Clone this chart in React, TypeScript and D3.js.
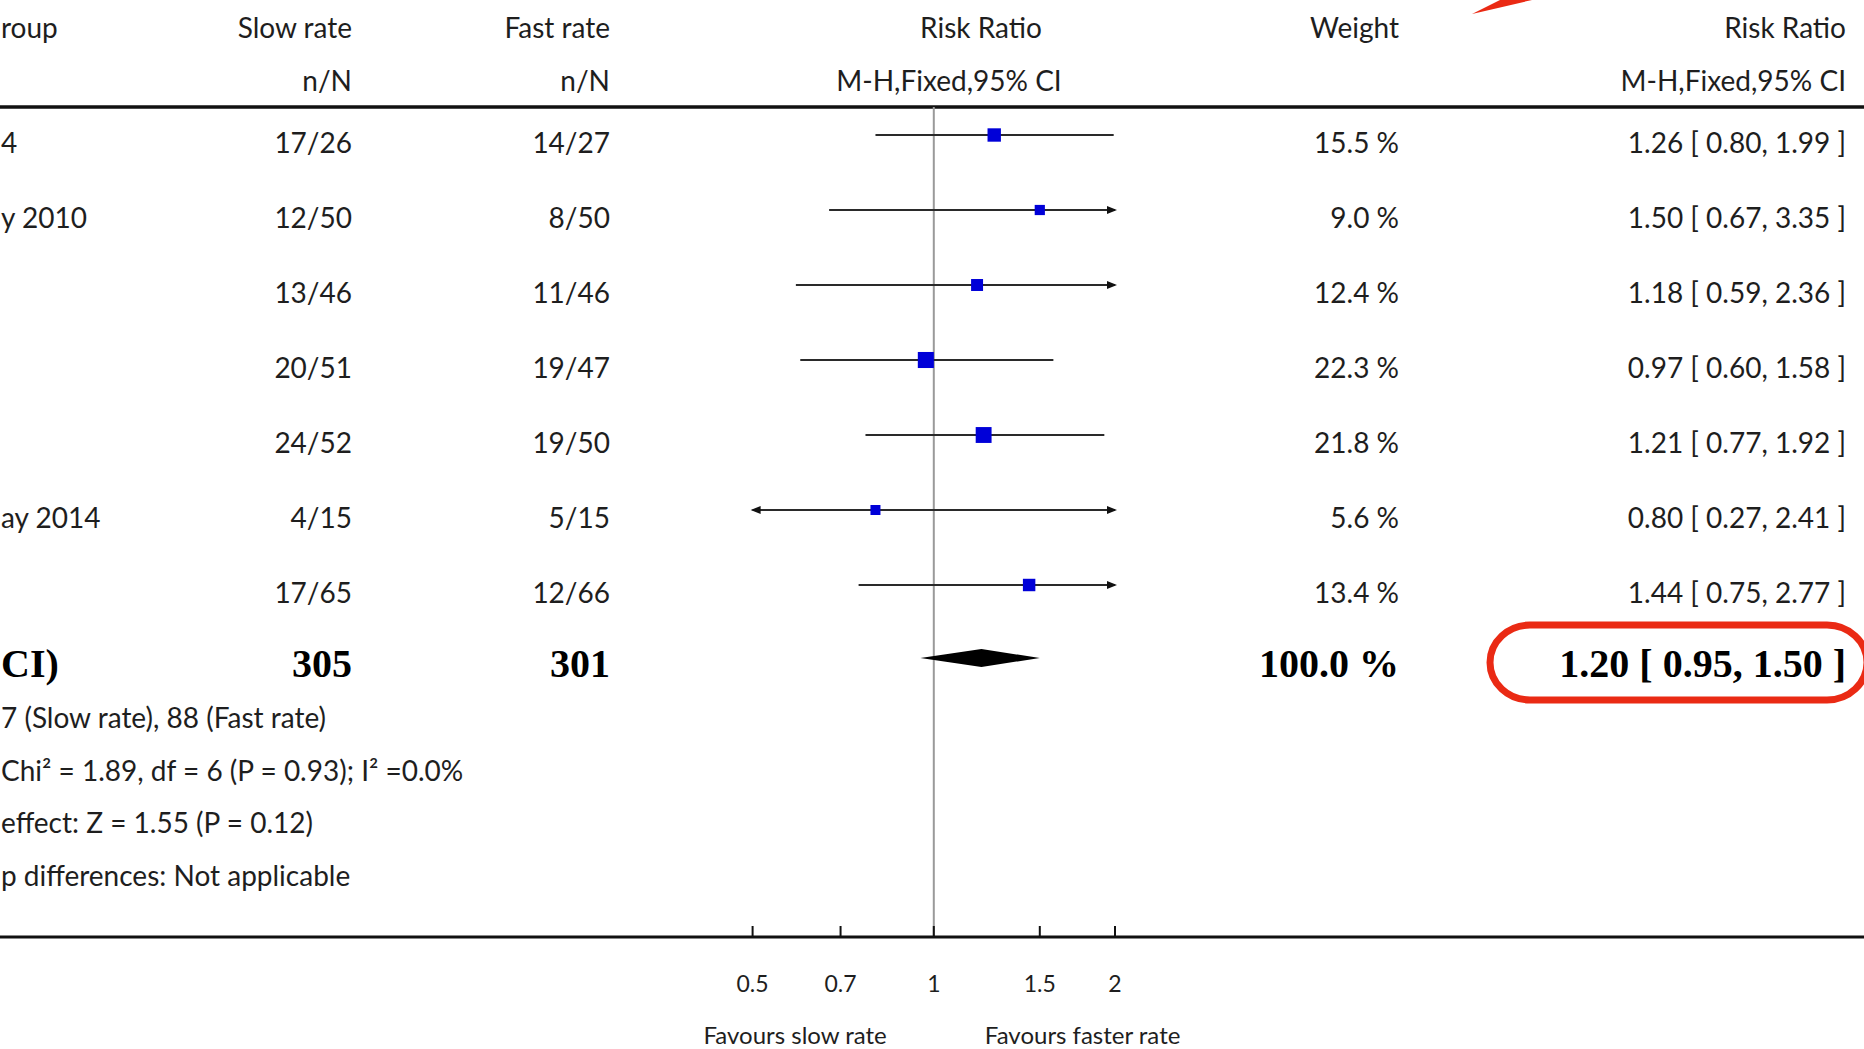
import React, { useEffect, useRef } from "react";
import * as d3 from "d3";

// study rows (only the visible ends of the names are in the source picture)
const studyLabels = ["4", "y 2010", "", "", "", "ay 2014", ""];
const slowEvents = [17, 12, 13, 20, 24, 4, 17];
const slowTotal = [26, 50, 46, 51, 52, 15, 65];
const fastEvents = [14, 8, 11, 19, 19, 5, 12];
const fastTotal = [27, 50, 46, 47, 50, 15, 66];
const weights = [15.5, 9.0, 12.4, 22.3, 21.8, 5.6, 13.4];
const rr = [1.26, 1.5, 1.18, 0.97, 1.21, 0.8, 1.44];
const rrLow = [0.8, 0.67, 0.59, 0.6, 0.77, 0.27, 0.75];
const rrHigh = [1.99, 3.35, 2.36, 1.58, 1.92, 2.41, 2.77];

const pooled = [1.2, 0.95, 1.5];
const totals = [305, 301];
const footLines = [
  "7 (Slow rate), 88 (Fast rate)",
  "Chi² = 1.89, df = 6 (P = 0.93); I² =0.0%",
  "effect: Z = 1.55 (P = 0.12)",
  "p differences: Not applicable",
];
const axisTicks = [0.5, 0.7, 1, 1.5, 2];

const W = 1864, H = 1049;
const font = "Lato, 'Open Sans', sans-serif";
const serif = "'Liberation Serif', 'DejaVu Serif', serif";

const App = () => {
  const ref = useRef(null);

  useEffect(() => {
    const svg = d3.select(ref.current);
    svg.selectAll("*").remove();

    const x = d3.scaleLog().domain([0.5, 2]).range([752.6, 1115]);
    const y = d3.scaleLinear().domain([0, 6]).range([153, 603]);
    const size = d3.scaleSqrt().domain([0, 25]).range([0, 17]);
    const col = { name: 1, slow: 352, fast: 610, weight: 1399, ci: 1846 };
    const lineTop = 107, axisY = 937, totalY = 677;

    const txt = (g, s, xx, yy, anchor, opts = {}) =>
      g.append("text")
        .attr("x", xx).attr("y", yy)
        .attr("text-anchor", anchor)
        .attr("font-family", opts.family || font)
        .attr("font-size", opts.size || 28)
        .attr("font-weight", opts.weight || 400)
        .attr("fill", opts.fill || "#1e1e1e")
        .text(s);

    // headers
    const head = svg.append("g");
    txt(head, "roup", col.name, 38, "start");
    txt(head, "Slow rate", col.slow, 38, "end");
    txt(head, "n/N", col.slow, 91, "end");
    txt(head, "Fast rate", col.fast, 38, "end");
    txt(head, "n/N", col.fast, 91, "end");
    txt(head, "Risk Ratio", 981, 38, "middle");
    txt(head, "M-H,Fixed,95% CI", 949, 91, "middle");
    txt(head, "Weight", col.weight, 38, "end");
    txt(head, "Risk Ratio", col.ci, 38, "end");
    txt(head, "M-H,Fixed,95% CI", col.ci, 91, "end");

    svg.append("line")
      .attr("x1", 0).attr("x2", W).attr("y1", lineTop).attr("y2", lineTop)
      .attr("stroke", "#111").attr("stroke-width", 3.5);

    // line of no effect
    svg.append("line")
      .attr("x1", x(1)).attr("x2", x(1)).attr("y1", lineTop).attr("y2", axisY)
      .attr("stroke", "#9a9a9a").attr("stroke-width", 2);

    // study rows
    const rows = svg.append("g");
    rr.forEach((d, i) => {
      const yy = y(i);
      const cy = yy - 18;
      const [lo, hi] = x.domain();
      const x1 = x(Math.max(rrLow[i], lo));
      const x2 = x(Math.min(rrHigh[i], hi));
      if (studyLabels[i]) txt(rows, studyLabels[i], col.name, yy, "start");
      txt(rows, slowEvents[i] + "/" + slowTotal[i], col.slow, yy, "end");
      txt(rows, fastEvents[i] + "/" + fastTotal[i], col.fast, yy, "end");
      txt(rows, weights[i].toFixed(1) + " %", col.weight, yy, "end");
      txt(rows, `${d.toFixed(2)} [ ${rrLow[i].toFixed(2)}, ${rrHigh[i].toFixed(2)} ]`, col.ci, yy, "end");

      rows.append("line")
        .attr("x1", x1).attr("x2", x2).attr("y1", cy).attr("y2", cy)
        .attr("stroke", "#2a2a2a").attr("stroke-width", 2);
      if (rrHigh[i] > hi) {
        rows.append("path")
          .attr("d", `M${x2 + 2},${cy} L${x2 - 8},${cy - 4} L${x2 - 8},${cy + 4} Z`)
          .attr("fill", "#111");
      }
      if (rrLow[i] < lo) {
        rows.append("path")
          .attr("d", `M${x1 - 2},${cy} L${x1 + 8},${cy - 4} L${x1 + 8},${cy + 4} Z`)
          .attr("fill", "#111");
      }
      const s = Math.max(size(weights[i]), 10);
      rows.append("rect")
        .attr("x", x(d) - s / 2).attr("y", cy - s / 2)
        .attr("width", s).attr("height", s)
        .attr("fill", "#0000d8");
    });

    // total row
    const tot = svg.append("g");
    const bold = { family: serif, size: 40, weight: 700, fill: "#000" };
    txt(tot, "CI)", col.name, totalY, "start", bold);
    txt(tot, String(totals[0]), col.slow, totalY, "end", bold);
    txt(tot, String(totals[1]), col.fast, totalY, "end", bold);
    txt(tot, "100.0 %", col.weight, totalY, "end", bold);
    txt(tot, `${pooled[0].toFixed(2)} [ ${pooled[1].toFixed(2)}, ${pooled[2].toFixed(2)} ]`, col.ci, totalY, "end", bold);
    const dy = 658;
    tot.append("path")
      .attr("d", `M${x(pooled[1])},${dy} L${x(pooled[0])},${dy - 9} L${x(pooled[2])},${dy} L${x(pooled[0])},${dy + 9} Z`)
      .attr("fill", "#000");

    // footnotes
    footLines.forEach((s, i) => txt(svg, s, col.name, 728 + i * 52.5, "start"));

    // axis
    svg.append("line")
      .attr("x1", 0).attr("x2", W).attr("y1", axisY).attr("y2", axisY)
      .attr("stroke", "#111").attr("stroke-width", 3);
    const ax = svg.append("g");
    ax.selectAll("line.tick")
      .data(axisTicks)
      .join("line")
      .attr("class", "tick")
      .attr("x1", d => x(d)).attr("x2", d => x(d))
      .attr("y1", axisY).attr("y2", axisY - 11)
      .attr("stroke", "#111").attr("stroke-width", 2);
    axisTicks.forEach(d => txt(ax, String(d), x(d), 992, "middle", { size: 23 }));
    txt(ax, "Favours slow rate", x(1) - 47, 1044, "end", { size: 24 });
    txt(ax, "Favours faster rate", x(1) + 51, 1044, "start", { size: 24 });

    // red annotation marks
    svg.append("rect")
      .attr("x", 1490).attr("y", 625).attr("width", 377).attr("height", 75)
      .attr("rx", 40).attr("ry", 38)
      .attr("fill", "none").attr("stroke", "#ea2a14").attr("stroke-width", 7);
    svg.append("path")
      .attr("d", "M1472,14 L1500,0 L1532,0 Z")
      .attr("fill", "#ea2a14");
  }, []);

  return (
    <svg ref={ref} width={W} height={H}
      style={{ position: "absolute", left: 0, top: 0, background: "#fff" }} />
  );
};

export default App;
